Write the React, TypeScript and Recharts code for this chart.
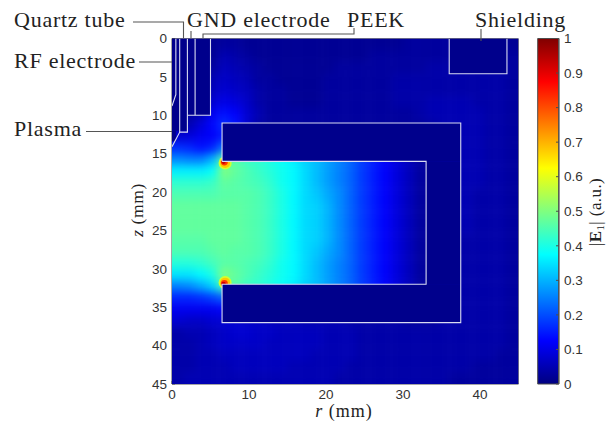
import React from "react";
import { ScatterChart, Scatter, XAxis, YAxis, BarChart, Bar } from "recharts";

// heat values in hundredths on a 1.5 mm grid, one list per z row, first entry at r = 0.75 mm
const rowZ = [0.75,2.25,3.75,5.25,6.75,8.25,9.75,11.25,12.75,14.25,15.75,17.25,18.75,20.25,21.75,23.25,24.75,26.25,27.75,29.25,30.75,32.25,33.75,35.25,36.75,38.25,39.75,41.25,42.75,44.25];
const colR = [0.75,2.25,3.75,5.25,6.75,8.25,9.75,11.25,12.75,14.25,15.75,17.25,18.75,20.25,21.75,23.25,24.75,26.25,27.75,29.25,30.75,32.25,33.75,35.25,36.75,38.25,39.75,41.25,42.75,44.25];
const heat = [
[1,1,1,2,3,3,2,2,2,2,2,2,2,2,2,2,2,2,2,2,3,3,3,3,3,3,3,3,3,2],
[1,1,1,2,5,4,3,2,2,2,2,2,2,2,2,2,2,3,3,3,3,3,3,3,3,4,4,3,3,3],
[1,1,1,3,6,5,4,3,2,2,2,2,2,2,3,3,3,3,3,3,3,3,4,4,4,4,4,4,4,3],
[1,1,1,5,7,6,5,3,3,2,2,2,2,3,3,3,3,3,3,4,4,4,4,4,4,4,4,4,4,3],
[1,1,2,6,8,7,6,4,3,3,2,2,2,3,3,3,3,3,3,4,4,4,4,4,4,4,4,4,4,3],
[2,2,3,8,10,9,7,4,3,3,2,2,2,3,3,3,3,3,3,4,4,4,5,5,5,5,4,4,4,3],
[2,3,5,11,14,12,8,5,3,3,3,3,3,3,3,3,3,3,3,3,3,4,5,5,5,5,5,4,4,3],
[4,5,9,13,17,14,8,4,3,3,3,3,3,3,3,3,3,3,3,3,3,3,4,5,5,5,5,4,4,3],
[8,9,11,12,15,14,10,6,4,3,3,3,3,3,3,3,3,3,3,3,3,3,4,5,5,5,5,4,4,3],
[17,16,14,16,24,30,38,38,36,34,32,30,28,26,24,22,18,15,12,9,6,3,3,5,5,5,5,4,4,3],
[26,25,25,30,46,46,43,42,40,38,36,33,31,28,25,22,18,15,12,9,6,3,3,5,5,5,5,4,4,3],
[36,36,36,38,50,47,45,43,41,39,37,34,31,28,25,22,18,15,12,9,6,3,3,5,5,5,5,4,4,3],
[42,42,42,43,47,46,45,44,42,39,37,34,31,28,25,22,18,15,12,9,6,3,3,5,5,5,5,4,4,3],
[45,45,45,45,46,46,46,45,43,40,37,34,32,29,26,22,18,15,12,9,6,3,3,5,5,5,4,4,4,3],
[47,47,47,47,47,47,46,45,43,40,37,34,33,30,26,22,18,15,12,9,6,3,3,4,5,5,4,4,4,3],
[47,47,47,47,47,47,46,45,43,40,37,34,33,30,26,22,18,15,12,9,6,3,3,4,5,5,4,4,4,3],
[47,47,47,47,47,47,46,45,43,40,37,34,33,30,26,22,18,15,12,9,6,3,3,4,4,5,4,4,4,3],
[46,46,46,47,47,47,46,45,43,40,37,34,33,30,26,22,18,15,12,9,6,3,3,4,4,4,4,4,4,3],
[45,45,45,46,47,46,46,45,43,40,37,34,32,29,26,22,18,15,12,9,6,3,3,4,4,4,4,4,4,3],
[41,41,42,44,46,46,45,44,42,39,37,34,31,28,25,22,18,15,12,9,6,3,3,4,4,4,4,4,4,3],
[35,35,37,40,50,47,45,43,41,39,37,34,31,28,25,22,18,15,12,9,6,3,3,4,4,4,4,4,4,3],
[25,26,29,33,45,46,43,42,40,38,36,33,31,28,25,22,18,15,12,9,6,3,3,4,4,4,4,4,4,3],
[16,16,17,19,22,7,6,6,6,6,6,5,5,5,5,4,4,4,4,4,3,3,3,4,4,4,4,4,4,3],
[11,11,11,11,12,8,7,7,6,6,6,5,5,5,5,4,4,4,4,4,3,3,3,4,4,4,4,4,4,3],
[8,7,7,8,8,8,7,7,6,6,6,5,5,5,5,4,4,4,4,4,3,3,3,4,4,4,4,4,4,3],
[4,5,5,6,7,8,8,7,7,6,6,6,6,5,5,5,4,4,4,4,4,4,4,4,4,4,4,4,4,3],
[4,4,5,6,7,7,7,7,6,6,6,6,6,5,5,5,4,4,4,4,4,4,4,4,4,4,4,4,4,3],
[4,4,5,5,6,6,6,6,6,6,6,6,5,5,5,5,4,4,4,4,4,4,4,4,4,4,4,4,3,3],
[4,4,5,5,5,6,6,6,6,6,5,5,5,5,5,4,4,4,4,4,4,4,4,4,4,4,3,3,3,3],
[4,5,5,5,5,5,5,5,5,5,5,5,5,5,4,4,4,4,4,4,4,4,4,4,3,3,3,3,3,3],
];
// singular hot spots at the electrode tips: [r, z, value, radius in mm]
const hotR = [6.9,6.9,6.8,6.7,6.9,6.9,6.8,6.7];
const hotZ = [16.2,16.2,16.1,16.05,31.8,31.8,31.9,31.95];
const hotV = [0.58,0.68,0.82,0.93,0.58,0.68,0.82,0.93];
const hotSize = [0.85,0.65,0.45,0.28,0.85,0.65,0.45,0.28];

// filled regions: [r0, r1, z0, z1]
const solids = [
  [0,2,0,12],[2,5,0,10],[6.5,37.5,11,16],[33,37.5,16,32],[6.5,37.5,32,37],[36,43.5,0,4.6],[0,0.5,12,13.4],
];
// outlines: list of polylines [r,z]
const outlines = [
  [[0.5,0],[0.5,7.3],[0,8.8]],
  [[1,0],[1,12.2],[0,14.1]],
  [[2,0],[2,12.2],[1,12.2]],
  [[2,10],[5,10],[5,0]],
  [[3,0],[3,10]],
  [[6.5,16],[6.5,11],[37.5,11],[37.5,37],[6.5,37],[6.5,32],[33,32],[33,16],[6.5,16]],
  [[36,0],[36,4.6],[43.5,4.6],[43.5,0]],
];
const frameTop = [[0,0],[45,0],[45,45]];
const xTicks = [0,10,20,30,40];
const yTicks = [0,5,10,15,20,25,30,35,40,45];
const cbTicks = [0,0.1,0.2,0.3,0.4,0.5,0.6,0.7,0.8,0.9,1];

const PLOT = { l: 172, r: 518.5, t: 38.5, b: 384 };
const pxR = (PLOT.r - PLOT.l) / 45;
const pxZ = (PLOT.b - PLOT.t) / 45;

const jetStops: [number, number, number, number][] = [
  [0,0,0,0.5],[0.125,0,0,1],[0.375,0,1,1],[0.625,1,1,0],[0.875,1,0,0],[1,0.5,0,0],
];
function jet(v: number) {
  for (let i = 1; i < jetStops.length; i++) {
    const a = jetStops[i-1], b = jetStops[i];
    if (v <= b[0]) {
      const t = (v - a[0]) / (b[0] - a[0]);
      const c = [1,2,3].map((k) => Math.round(255 * (a[k] + (b[k] - a[k]) * t)));
      return `rgb(${c[0]},${c[1]},${c[2]})`;
    }
  }
  return "rgb(128,0,0)";
}

const cells: any[] = [];
rowZ.forEach((z, j) => colR.forEach((r, i) => cells.push({ r, z, v: heat[j][i] / 100, i, j })));
const hots = hotR.map((r, i) => ({ r, z: hotZ[i], v: hotV[i], s: hotSize[i] }));
const solidPts = solids.map((s) => ({ r: (s[0] + s[1]) / 2, z: (s[2] + s[3]) / 2, w: s[1] - s[0], h: s[3] - s[2] }));
const toPts = (pl: number[][]) => pl.map((p) => ({ r: p[0], z: p[1] }));

const CellShape = (p: any) => {
  const { cx, cy, payload } = p;
  const w = 1.5 * pxR, h = 1.5 * pxZ, pad = 14;
  const x0 = cx - w / 2 - (payload.i === 0 ? pad : 0);
  const x1 = cx + w / 2 + (payload.i === colR.length - 1 ? pad : 0.4);
  const y0 = cy - h / 2 - (payload.j === 0 ? pad : 0);
  const y1 = cy + h / 2 + (payload.j === rowZ.length - 1 ? pad : 0.4);
  return <rect x={x0} y={y0} width={x1 - x0} height={y1 - y0} fill={jet(payload.v)} />;
};
const HotShape = (p: any) => (
  <circle cx={p.cx} cy={p.cy} r={p.payload.s * pxR} fill={jet(p.payload.v)} />
);
const NAVY = "#00008c";
const SolidShape = (p: any) => {
  const w = p.payload.w * pxR, h = p.payload.h * pxZ;
  return <rect x={p.cx - w / 2} y={p.cy - h / 2} width={w} height={h} fill={NAVY} />;
};
const NoDot = () => <g />;

const EDGE = "#d9dcf2";
const GRAY = "#4d4d4d";
const SERIF = "'Liberation Serif', serif";
const SANS = "'Liberation Sans', sans-serif";
const tickStyle = { fontSize: 13.5, fontFamily: SANS, fill: "#333" };

const css = `
.heat { filter: blur(4px); clip-path: url(#plotClip); }
.hot { filter: blur(0.7px); }
`;

function Note({ x, y, children }: any) {
  return <text x={x} y={y} fontFamily={SERIF} fontSize={22} letterSpacing={0.75} fill="#222">{children}</text>;
}

export default function App() {
  return (
    <div style={{ position: "absolute", left: 0, top: 0, width: 613, height: 429, background: "#fff" }}>
      <style>{css}</style>
      <svg width={0} height={0} style={{ position: "absolute" }}>
        <defs>
          <clipPath id="plotClip" clipPathUnits="userSpaceOnUse">
            <rect x={PLOT.l} y={PLOT.t} width={PLOT.r - PLOT.l} height={PLOT.b - PLOT.t} />
          </clipPath>
        </defs>
      </svg>
      <div style={{ position: "absolute", left: 0, top: 0 }}>
        <ScatterChart width={613} height={429} margin={{ top: PLOT.t, left: PLOT.l - 50, right: 613 - PLOT.r, bottom: 15 }}>
          <XAxis type="number" dataKey="r" domain={[0, 45]} ticks={xTicks} height={30} allowDataOverflow
            tickSize={-3} tickMargin={8} tick={tickStyle} stroke={GRAY} interval={0} />
          <YAxis type="number" dataKey="z" domain={[0, 45]} ticks={yTicks} reversed width={50} allowDataOverflow
            tickSize={-3} tickMargin={8} tick={tickStyle} stroke={GRAY} interval={0} />
          <Scatter className="heat" data={cells} shape={CellShape} isAnimationActive={false} />
          <Scatter className="hot" data={hots} shape={HotShape} isAnimationActive={false} />
          <Scatter data={solidPts} shape={SolidShape} isAnimationActive={false} />
          {outlines.map((pl, i) => (
            <Scatter key={"o" + i} data={toPts(pl)} shape={NoDot} line={{ stroke: EDGE, strokeWidth: 1.1 }} isAnimationActive={false} />
          ))}
          <Scatter data={toPts(frameTop)} shape={NoDot} line={{ stroke: GRAY, strokeWidth: 1 }} isAnimationActive={false} />
        </ScatterChart>
      </div>
      <div style={{ position: "absolute", left: 530, top: 0 }}>
        <BarChart width={83} height={429} data={[{ k: "c", v: 1 }]} barCategoryGap={0}
          margin={{ top: PLOT.t, left: 7.7, right: 83 - 7.7 - 21.3 - 40, bottom: 45 }}>
          <defs>
            <linearGradient id="jetGrad" x1="0" y1="1" x2="0" y2="0">
              {jetStops.map((s) => <stop key={s[0]} offset={s[0]} stopColor={jet(s[0])} />)}
            </linearGradient>
          </defs>
          <XAxis dataKey="k" hide />
          <YAxis orientation="right" type="number" domain={[0, 1]} ticks={cbTicks} width={40} interval={0}
            tickSize={-3} tickMargin={8} tick={{ ...tickStyle, textAnchor: "start" }} stroke={GRAY} />
          <Bar dataKey="v" fill="url(#jetGrad)" stroke={GRAY} strokeWidth={1} isAnimationActive={false} />
        </BarChart>
      </div>
      <svg width={613} height={429} style={{ position: "absolute", left: 0, top: 0, pointerEvents: "none" }}>
        <Note x={14} y={27}>Quartz tube</Note>
        <Note x={187} y={27}>GND electrode</Note>
        <Note x={347} y={27}>PEEK</Note>
        <Note x={14} y={68}>RF electrode</Note>
        <Note x={14} y={136}>Plasma</Note>
        <Note x={475} y={27}>Shielding</Note>
        <g stroke="#555" strokeWidth={1.1} fill="none">
          <polyline points="133,22 183.5,22 183.5,38" />
          <polyline points="191,31 191,38" />
          <polyline points="203,38 203,34 354,34 354,28" />
          <polyline points="139,62 172,62" />
          <polyline points="86,131.5 172,131.5" />
          <polyline points="481,29 481,41" />
        </g>
        <text x={344} y={417} textAnchor="middle" fontFamily={SERIF} fontSize={18} letterSpacing={1} fill="#222">
          <tspan fontStyle="italic">r</tspan> (mm)
        </text>
        <text transform="translate(143,210) rotate(-90)" textAnchor="middle" fontFamily={SERIF} fontSize={17.5} letterSpacing={0.6} fill="#222">
          <tspan fontStyle="italic">z</tspan> (mm)
        </text>
        <text transform="translate(601,212) rotate(-90)" textAnchor="middle" fontFamily={SERIF} fontSize={17} letterSpacing={0.4} fill="#222">
          |<tspan fontWeight="bold">E</tspan><tspan fontSize={11} dy={3}>1</tspan><tspan dy={-3}>| (a.u.)</tspan>
        </text>
      </svg>
    </div>
  );
}
